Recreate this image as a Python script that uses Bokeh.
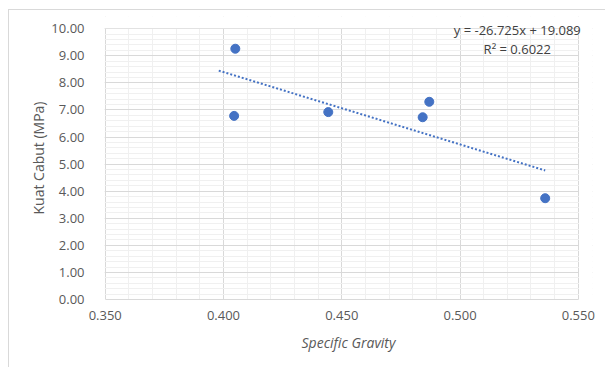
from bokeh.plotting import figure
from bokeh.models import (ColumnDataSource, SingleIntervalTicker, NumeralTickFormatter,
                          Range1d, Label, BoxAnnotation)
from bokeh.embed import file_html
from bokeh.resources import INLINE

# ---- data ----
specific_gravity = [0.4050, 0.4045, 0.4443, 0.4842, 0.4870, 0.5360]
kuat_cabut = [9.26, 6.78, 6.92, 6.73, 7.30, 3.74]

trend_slope = -26.725
trend_intercept = 19.089
trend_r2 = 0.6022
trend_x = [0.398, 0.536]
trend_y = [trend_slope * x + trend_intercept for x in trend_x]

x_min, x_max = 0.35, 0.55
y_min, y_max = 0.0, 10.0
x_ticks_interval = 0.05
y_ticks_interval = 1.0

FONT = "Open Sans"
BLUE = "#4472C4"

# the frame is a little larger than the data area so the equation label is not clipped;
# the extra strip is masked in white
p = figure(width=597, height=358, margin=(9, 0, 0, 8),
           output_backend="svg", toolbar_location=None,
           x_range=Range1d(0.3497, 0.556), y_range=Range1d(0.0, 10.45),
           min_border_left=95, min_border_right=14, min_border_top=6,
           min_border_bottom=69,
           styles={"border-left": "1px solid #d9d9d9", "border-top": "1px solid #d9d9d9"})

p.background_fill_color = "white"
p.border_fill_color = "white"
p.outline_line_color = None

# ticks / grids
p.xaxis.ticker = SingleIntervalTicker(interval=x_ticks_interval, num_minor_ticks=5)
p.yaxis.ticker = SingleIntervalTicker(interval=y_ticks_interval, num_minor_ticks=5)
p.xaxis.formatter = NumeralTickFormatter(format="0.000")
p.yaxis.formatter = NumeralTickFormatter(format="0.00")
p.xaxis.bounds = (x_min, x_max)
p.yaxis.bounds = (y_min, y_max)

p.xgrid.grid_line_color = "#d9d9d9"
p.ygrid.grid_line_color = "#d9d9d9"
p.xgrid.minor_grid_line_color = "#f0f0f0"
p.ygrid.minor_grid_line_color = "#f0f0f0"

for ax in (p.xaxis, p.yaxis):
    ax.major_tick_line_color = None
    ax.minor_tick_line_color = None
    ax.major_label_text_font = FONT
    ax.major_label_text_font_size = "13px"
    ax.major_label_text_color = "#595959"
    ax.axis_label_text_font = FONT
    ax.axis_label_text_font_size = "14px"
    ax.axis_label_text_color = "#595959"
    ax.axis_label_text_font_style = "normal"

p.xaxis.axis_line_color = "#d9d9d9"
p.yaxis.axis_line_color = None
p.yaxis.major_label_standoff = 14
p.xaxis.major_label_standoff = 5
p.xaxis.axis_label = "Specific Gravity"
p.xaxis.axis_label_text_font_style = "italic"
p.xaxis.axis_label_standoff = 10
p.yaxis.axis_label = "Kuat Cabut (MPa)"
p.yaxis.axis_label_standoff = 0

# masks outside the data area
p.add_layout(BoxAnnotation(bottom=y_max + 0.02, fill_color="white", fill_alpha=1.0,
                           line_color=None, level="underlay"))
p.add_layout(BoxAnnotation(left=x_max + 0.0003, fill_color="white", fill_alpha=1.0,
                           line_color=None, level="underlay"))

# trendline
p.line(trend_x, trend_y, line_color=BLUE, line_width=2, line_dash="2 2")

# points
src = ColumnDataSource(dict(x=specific_gravity, y=kuat_cabut))
p.scatter("x", "y", source=src, size=9, fill_color=BLUE, line_color=BLUE)

# equation label
eq1 = Label(x=0.5242, y=9.96,
            text=f"y = {trend_slope}x + {trend_intercept}",
            text_font=FONT, text_font_size="13px", text_color="#404040",
            text_align="center", text_baseline="middle")
eq2 = Label(x=0.5242, y=9.25,
            text=f"R² = {trend_r2}",
            text_font=FONT, text_font_size="13px", text_color="#404040",
            text_align="center", text_baseline="middle")
p.add_layout(eq1)
p.add_layout(eq2)

open("out.html", "w").write(file_html(p, INLINE))
